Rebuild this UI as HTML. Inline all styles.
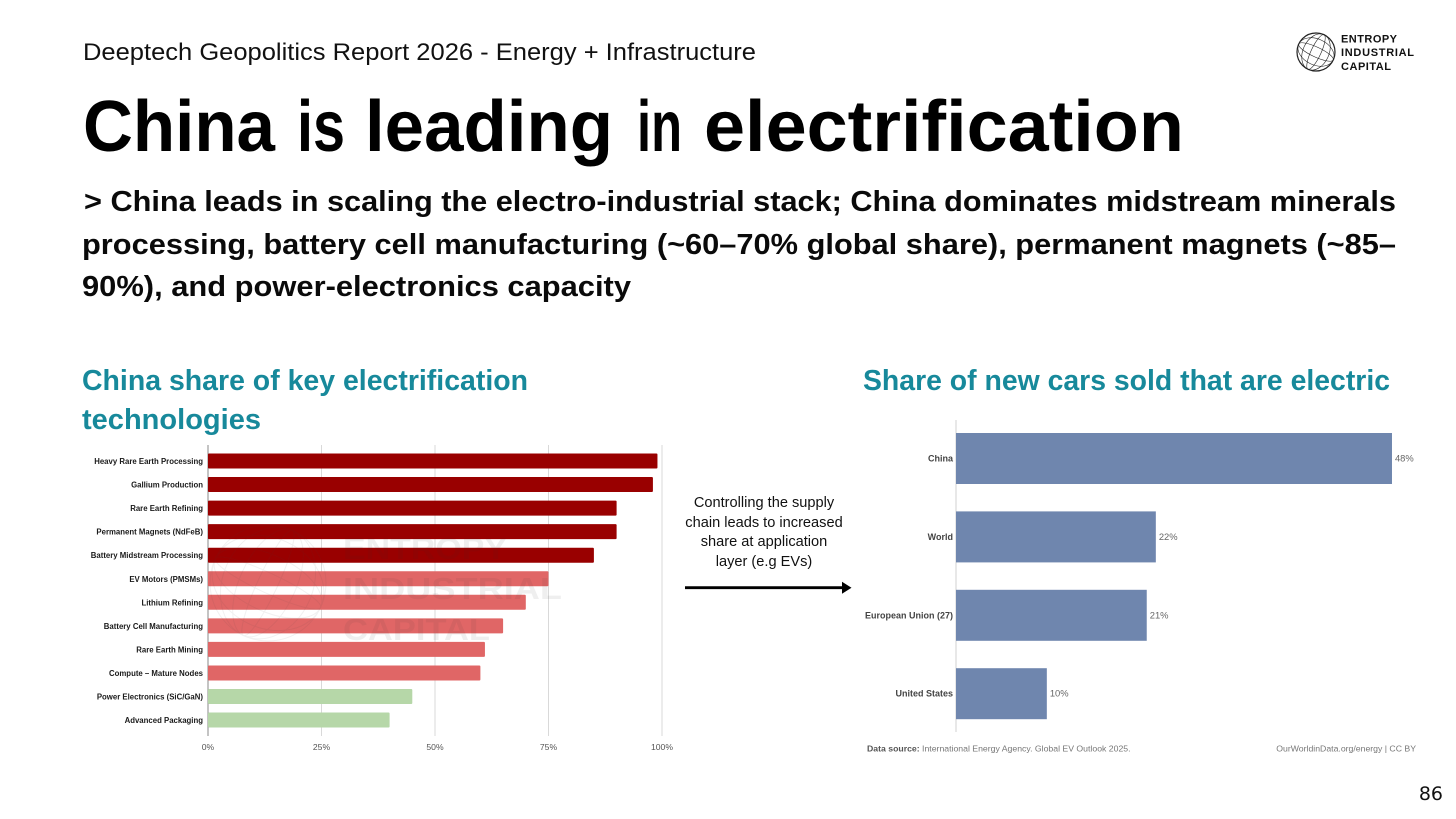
<!DOCTYPE html>
<html lang="en">
<head>
<meta charset="utf-8">
<title>China is leading in electrification</title>
<style>
html,body{margin:0;padding:0;background:#fff;width:1456px;height:819px;overflow:hidden}
svg{display:block;position:absolute;left:0;top:0}
text{font-family:"Liberation Sans",sans-serif}
</style>
</head>
<body>
<svg id="slide" width="1456" height="819" viewBox="0 0 1456 819">
  <text x="83" y="60" font-size="24" fill="#111" textLength="673" lengthAdjust="spacingAndGlyphs">Deeptech Geopolitics Report 2026 - Energy + Infrastructure</text>

  <g fill="none" stroke="#222" stroke-width="0.6">
    <circle cx="1316" cy="52" r="19" stroke-width="1.2"/>
    <ellipse cx="1316" cy="52" rx="13" ry="19" transform="rotate(25 1316 52)"/>
    <ellipse cx="1316" cy="52" rx="5" ry="19" transform="rotate(25 1316 52)"/>
    <ellipse cx="1316" cy="52" rx="19" ry="13" transform="rotate(25 1316 52)"/>
    <ellipse cx="1316" cy="52" rx="19" ry="5" transform="rotate(25 1316 52)"/>
  </g>
  <g font-weight="700" font-size="11" fill="#111">
    <text x="1341" y="42.500" textLength="56">ENTROPY</text>
    <text x="1341" y="56" textLength="73">INDUSTRIAL</text>
    <text x="1341" y="70" textLength="50">CAPITAL</text>
  </g>

  <g font-size="72" font-weight="700" fill="#000">
    <text x="83" y="151" textLength="192" lengthAdjust="spacingAndGlyphs">China</text>
    <text x="297" y="151" textLength="48" lengthAdjust="spacingAndGlyphs">is</text>
    <text x="365" y="151" textLength="248" lengthAdjust="spacingAndGlyphs">leading</text>
    <text x="637" y="151" textLength="45" lengthAdjust="spacingAndGlyphs">in</text>
    <text x="704" y="151" textLength="480" lengthAdjust="spacingAndGlyphs">electrification</text>
  </g>

  <g font-size="29" font-weight="700" fill="#0a0a0a">
    <text x="84" y="211" textLength="1312" lengthAdjust="spacingAndGlyphs">&gt; China leads in scaling the electro-industrial stack; China dominates midstream minerals</text>
    <text x="82" y="254" textLength="1314" lengthAdjust="spacingAndGlyphs">processing, battery cell manufacturing (~60–70% global share), permanent magnets (~85–</text>
    <text x="82" y="296" textLength="549" lengthAdjust="spacingAndGlyphs">90%), and power-electronics capacity</text>
  </g>

  <g font-size="29" font-weight="700" fill="#17899b">
    <text x="82" y="390" textLength="446" lengthAdjust="spacingAndGlyphs">China share of key electrification</text>
    <text x="82" y="429" textLength="179" lengthAdjust="spacingAndGlyphs">technologies</text>
    <text x="863" y="390" textLength="527" lengthAdjust="spacingAndGlyphs">Share of new cars sold that are electric</text>
  </g>

  <g id="left-chart"></g>

  <g opacity="0.07">
    <g fill="none" stroke="#444" stroke-width="1">
      <circle cx="268" cy="583" r="58"/>
      <ellipse cx="268" cy="583" rx="45" ry="58" transform="rotate(25 268 583)"/>
      <ellipse cx="268" cy="583" rx="28" ry="58" transform="rotate(25 268 583)"/>
      <ellipse cx="268" cy="583" rx="10" ry="58" transform="rotate(25 268 583)"/>
      <ellipse cx="268" cy="583" rx="58" ry="45" transform="rotate(25 268 583)"/>
      <ellipse cx="268" cy="583" rx="58" ry="28" transform="rotate(25 268 583)"/>
      <ellipse cx="268" cy="583" rx="58" ry="10" transform="rotate(25 268 583)"/>
    </g>
    <g font-size="31" font-weight="700" fill="#333">
      <text x="343" y="559" textLength="164" lengthAdjust="spacingAndGlyphs">ENTROPY</text>
      <text x="343" y="599" textLength="219" lengthAdjust="spacingAndGlyphs">INDUSTRIAL</text>
      <text x="343" y="640" textLength="147" lengthAdjust="spacingAndGlyphs">CAPITAL</text>
    </g>
  </g>

  <g font-size="14.600" fill="#111" text-anchor="middle">
    <text x="764" y="507">Controlling the supply</text>
    <text x="764" y="527">chain leads to increased</text>
    <text x="764" y="546">share at application</text>
    <text x="764" y="566">layer (e.g EVs)</text>
  </g>
  <g>
    <line x1="685" y1="587.700" x2="846" y2="587.700" stroke="#000" stroke-width="2.800"/>
    <path d="M842 581.700 L851.500 587.700 L842 593.700 Z" fill="#000"/>
  </g>

  <g id="right-chart"></g>

  <text x="867" y="751.500" font-size="8.700" fill="#777"><tspan font-weight="700" fill="#555">Data source:</tspan> International Energy Agency. Global EV Outlook 2025.</text>
  <text x="1416" y="751.500" font-size="8.700" fill="#777" text-anchor="end">OurWorldinData.org/energy | CC BY</text>
  <text x="1443" y="800" font-size="19" fill="#111" text-anchor="end" style="font-family:'DejaVu Sans',sans-serif">86</text>
</svg>

<script>
const leftCategories = ["Heavy Rare Earth Processing","Gallium Production","Rare Earth Refining","Permanent Magnets (NdFeB)","Battery Midstream Processing","EV Motors (PMSMs)","Lithium Refining","Battery Cell Manufacturing","Rare Earth Mining","Compute – Mature Nodes","Power Electronics (SiC/GaN)","Advanced Packaging"];
const leftValues = [99,98,90,90,85,75,70,65,61,60,45,40];
const leftTiers = ["high","high","high","high","high","mid","mid","mid","mid","mid","low","low"];
const leftTicks = [0,25,50,75,100];
const rightCategories = ["China","World","European Union (27)","United States"];
const rightValues = [48,22,21,10];

const NS = "http://www.w3.org/2000/svg";
const tierColors = {high:"#990000",mid:"#e06666",low:"#b6d7a8"};
function mk(parent, tag, attrs, txt){
  const e = document.createElementNS(NS, tag);
  for (const k in attrs) e.setAttribute(k, attrs[k]);
  if (txt !== undefined) e.textContent = txt;
  parent.appendChild(e);
  return e;
}

const leftG = document.getElementById("left-chart");
const lx = v => 208 + v * 4.54;
const ly = i => 461 + i * 23.55;
leftTicks.forEach(t => {
  const grid = mk(leftG, "line", {x1:lx(t),x2:lx(t),y1:445,y2:736,stroke:t===0?"#888":"#d9d9d9","stroke-width":1});
  
  
  const tick = mk(leftG, "text", {x:lx(t),y:750,"font-size":8.6,fill:"#555","text-anchor":"middle"}, t + "%");
  
  
});
leftCategories.forEach((c, i) => {
  const bar = mk(leftG, "rect", {x:lx(0),y:ly(i)-7.5,width:lx(leftValues[i])-lx(0),height:15,rx:1,fill:tierColors[leftTiers[i]]});
  
  
  const lab = mk(leftG, "text", {x:203,y:ly(i)+3,"font-size":7.8,"font-weight":700,fill:"#1a1a1a","text-anchor":"end"}, c);
  
  
});

const rightG = document.getElementById("right-chart");
const rx = v => 956 + v * 9.083;
const ry = i => 458.5 + i * 78.4;
const rightAxis = mk(rightG, "line", {x1:956,x2:956,y1:420,y2:732,stroke:"#d0d0d0","stroke-width":1});


rightCategories.forEach((c, i) => {
  const bar = mk(rightG, "rect", {x:rx(0),y:ry(i)-25.5,width:rx(rightValues[i])-rx(0),height:51,fill:"#6f86ae"});
  
  
  const lab = mk(rightG, "text", {x:953,y:ry(i)+3,"font-size":9,"font-weight":700,fill:"#444","text-anchor":"end"}, c);
  
  
  const val = mk(rightG, "text", {x:rx(rightValues[i])+3,y:ry(i)+3,"font-size":9.4,fill:"#666"}, rightValues[i] + "%");
  
  
});
</script>
</body>
</html>
